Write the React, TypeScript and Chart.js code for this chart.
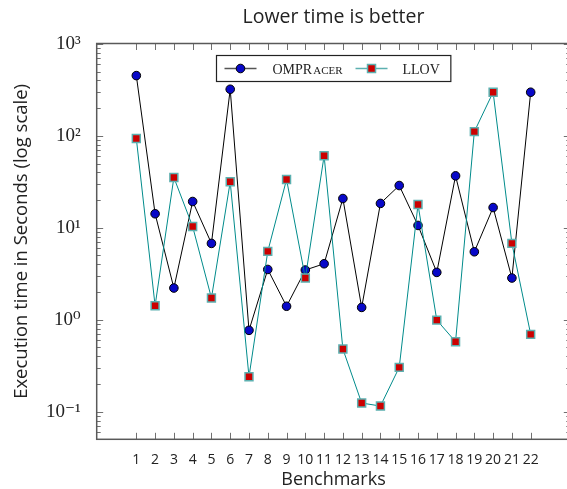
import React, { useEffect, useRef } from 'react';
import { Chart, registerables } from 'chart.js';

Chart.register(...registerables);

const benchmarks = [1, 2, 3, 4, 5, 6, 7, 8, 9, 10, 11, 12, 13, 14, 15, 16, 17, 18, 19, 20, 21, 22];
const ompracerTimes = [452, 14.2, 2.21, 19.3, 6.76, 321, 0.766, 3.52, 1.4, 3.47, 4.06, 20.8, 1.36, 18.4, 28.8, 10.6, 3.27, 36.7, 5.48, 16.6, 2.84, 298];
const llovTimes = [93.5, 1.42, 35.2, 10.3, 1.72, 31.6, 0.24, 5.53, 33.5, 2.84, 60.6, 0.48, 0.124, 0.115, 0.303, 17.9, 0.99, 0.576, 111, 298, 6.76, 0.693];
const yDecades = [0.1, 1, 10, 100, 1000];
const yTickLabels = ['10⁻¹', '10⁰', '10¹', '10²', '10³'];

const seriesNames = ['OMPR', 'ACER', 'LLOV'];

const SANS = '"Open Sans", "DejaVu Sans", sans-serif';
const SERIF = '"Liberation Serif", "DejaVu Serif", serif';

const OMP_FILL = '#0808c8';
const LLOV_FILL = '#cc0000';
const LLOV_LINE = '#008b8b';
const LLOV_EDGE = '#5cb0b0';

const titleAlignPlugin = {
  id: 'titleOverArea',
  afterLayout(chart: any) {
    const tb = chart.titleBlock;
    if (tb) {
      tb.left = chart.chartArea.left;
      tb.right = chart.chartArea.right;
    }
  },
};

const framePlugin = {
  id: 'frameTicks',
  beforeDatasetsDraw(chart: any) {
    const { ctx, chartArea } = chart;
    const { left, right, top, bottom } = chartArea;
    const ys = chart.scales.y;
    const xs = chart.scales.x;
    ctx.save();
    ctx.strokeStyle = '#707070';
    ctx.lineWidth = 1;
    ctx.beginPath();
    for (let d = -3; d <= 3; d++) {
      for (let m = 1; m <= 9; m++) {
        const v = m * Math.pow(10, d);
        if (v < ys.min || v > ys.max) continue;
        const py = Math.round(ys.getPixelForValue(v)) + 0.5;
        const len = m === 1 ? 6.5 : 4;
        ctx.moveTo(left, py);
        ctx.lineTo(left + len, py);
        ctx.moveTo(right, py);
        ctx.lineTo(right - len, py);
      }
    }
    benchmarks.forEach((b) => {
      const px = Math.round(xs.getPixelForValue(b)) + 0.5;
      ctx.moveTo(px, bottom);
      ctx.lineTo(px, bottom - 6.5);
      ctx.moveTo(px, top);
      ctx.lineTo(px, top + 6.5);
    });
    ctx.stroke();
    ctx.strokeStyle = '#595959';
    ctx.lineWidth = 1.5;
    ctx.strokeRect(left, top, right - left, bottom - top);
    ctx.restore();
  },
};

const legendPlugin = {
  id: 'boxLegend',
  afterDraw(chart: any) {
    const { ctx, chartArea } = chart;
    ctx.save();
    const big = '14px ' + SERIF;
    const small = '11px ' + SERIF;
    ctx.font = big;
    const w1 = ctx.measureText(seriesNames[0]).width;
    const w3 = ctx.measureText(seriesNames[2]).width;
    ctx.font = small;
    const w2 = ctx.measureText(seriesNames[1]).width;
    const t1 = w1 + 1 + w2;
    const padL = 8, lineLen = 32, gapA = 16, gapB = 13, gapC = 15, padR = 11;
    const W = padL + lineLen + gapA + t1 + gapB + lineLen + gapC + w3 + padR;
    const H = 26;
    const cx = (chartArea.left + chartArea.right) / 2;
    const bx = Math.round(cx - W / 2) + 0.5;
    const by = Math.round(chartArea.top + 11.5) + 0.5;
    ctx.fillStyle = '#ffffff';
    ctx.fillRect(bx, by, W, H);
    ctx.strokeStyle = '#222';
    ctx.lineWidth = 1.2;
    ctx.strokeRect(bx, by, W, H);
    const cy = by + H / 2;
    let x = bx + padL;
    ctx.strokeStyle = '#555';
    ctx.lineWidth = 1.4;
    ctx.beginPath();
    ctx.moveTo(x, cy);
    ctx.lineTo(x + lineLen, cy);
    ctx.stroke();
    ctx.beginPath();
    ctx.arc(x + lineLen / 2, cy, 4.3, 0, Math.PI * 2);
    ctx.fillStyle = OMP_FILL;
    ctx.fill();
    ctx.strokeStyle = '#000';
    ctx.lineWidth = 1;
    ctx.stroke();
    x += lineLen + gapA;
    ctx.fillStyle = '#222';
    ctx.textBaseline = 'alphabetic';
    ctx.textAlign = 'left';
    ctx.font = big;
    ctx.fillText(seriesNames[0], x, cy + 5);
    ctx.font = small;
    ctx.fillText(seriesNames[1], x + w1 + 1, cy + 5);
    x += t1 + gapB;
    ctx.strokeStyle = LLOV_EDGE;
    ctx.lineWidth = 1.4;
    ctx.beginPath();
    ctx.moveTo(x, cy);
    ctx.lineTo(x + lineLen, cy);
    ctx.stroke();
    ctx.fillStyle = LLOV_FILL;
    ctx.fillRect(x + lineLen / 2 - 4, cy - 4, 8, 8);
    ctx.strokeStyle = LLOV_EDGE;
    ctx.lineWidth = 1.5;
    ctx.strokeRect(x + lineLen / 2 - 4, cy - 4, 8, 8);
    x += lineLen + gapC;
    ctx.fillStyle = '#222';
    ctx.font = big;
    ctx.fillText(seriesNames[2], x, cy + 5);
    ctx.restore();
  },
};

export default function App() {
  const canvasRef = useRef<HTMLCanvasElement | null>(null);

  useEffect(() => {
    const canvas = canvasRef.current;
    if (!canvas) return;
    const chart = new Chart(canvas, {
      type: 'line',
      data: {
        datasets: [
          {
            label: 'OMPRacer',
            data: benchmarks.map((b, i) => ({ x: b, y: ompracerTimes[i] })),
            borderColor: '#000000',
            borderWidth: 1,
            pointStyle: 'circle',
            pointRadius: 4.3,
            pointBackgroundColor: OMP_FILL,
            pointBorderColor: '#000000',
            pointBorderWidth: 1,
            tension: 0,
            order: 1,
          },
          {
            label: 'LLOV',
            data: benchmarks.map((b, i) => ({ x: b, y: llovTimes[i] })),
            borderColor: LLOV_LINE,
            borderWidth: 1,
            pointStyle: 'rect',
            pointRadius: 5.6,
            pointBackgroundColor: LLOV_FILL,
            pointBorderColor: LLOV_EDGE,
            pointBorderWidth: 1.5,
            tension: 0,
            order: 0,
          },
        ],
      },
      options: {
        responsive: false,
        animation: false,
        devicePixelRatio: 1,
        layout: { padding: { left: 0, right: 9.7, top: 0, bottom: 0 } },
        plugins: {
          legend: { display: false },
          tooltip: { enabled: false },
          title: {
            display: true,
            text: 'Lower time is better',
            color: '#222',
            font: { family: SANS, size: 19.5, weight: 'normal' },
            padding: { top: 5.3, bottom: 14.8 },
          },
        },
        scales: {
          x: {
            type: 'linear',
            min: -1.11,
            max: 24.11,
            grid: { display: false },
            border: { display: false },
            afterBuildTicks: (axis: any) => {
              axis.ticks = benchmarks.map((v) => ({ value: v }));
            },
            afterFit: (scale: any) => {
              scale.height = 49.7;
            },
            ticks: {
              autoSkip: false,
              maxRotation: 0,
              padding: 4,
              color: '#222',
              font: { family: SANS, size: 14 },
              callback: (v: any) => String(v),
            },
            title: {
              display: true,
              text: 'Benchmarks',
              color: '#222',
              font: { family: SANS, size: 18, lineHeight: 1 },
              padding: { top: 0, bottom: 0 },
            },
          },
          y: {
            type: 'logarithmic',
            min: 0.05,
            max: 1010,
            grid: { display: false },
            border: { display: false },
            afterBuildTicks: (axis: any) => {
              axis.ticks = yDecades.map((v) => ({ value: v }));
            },
            afterFit: (scale: any) => {
              scale.width = 96.7;
            },
            ticks: {
              autoSkip: false,
              padding: 8,
              color: '#222',
              font: { family: SERIF, size: 19 },
              callback: (v: any) => {
                const i = yDecades.indexOf(Number(v));
                return i >= 0 ? yTickLabels[i] : '';
              },
            },
            title: {
              display: true,
              text: 'Execution time in Seconds (log scale)',
              color: '#222',
              font: { family: SANS, size: 18.5 },
              padding: { top: 11, bottom: 0 },
            },
          },
        },
      },
      plugins: [titleAlignPlugin, framePlugin, legendPlugin],
    });
    return () => chart.destroy();
  }, []);

  return (
    <div style={{ position: 'absolute', left: 0, top: 0, width: 567, height: 489, overflow: 'hidden', background: '#fff' }}>
      <canvas ref={canvasRef} width={580} height={489} style={{ display: 'block', width: 580, height: 489 }} />
    </div>
  );
}
